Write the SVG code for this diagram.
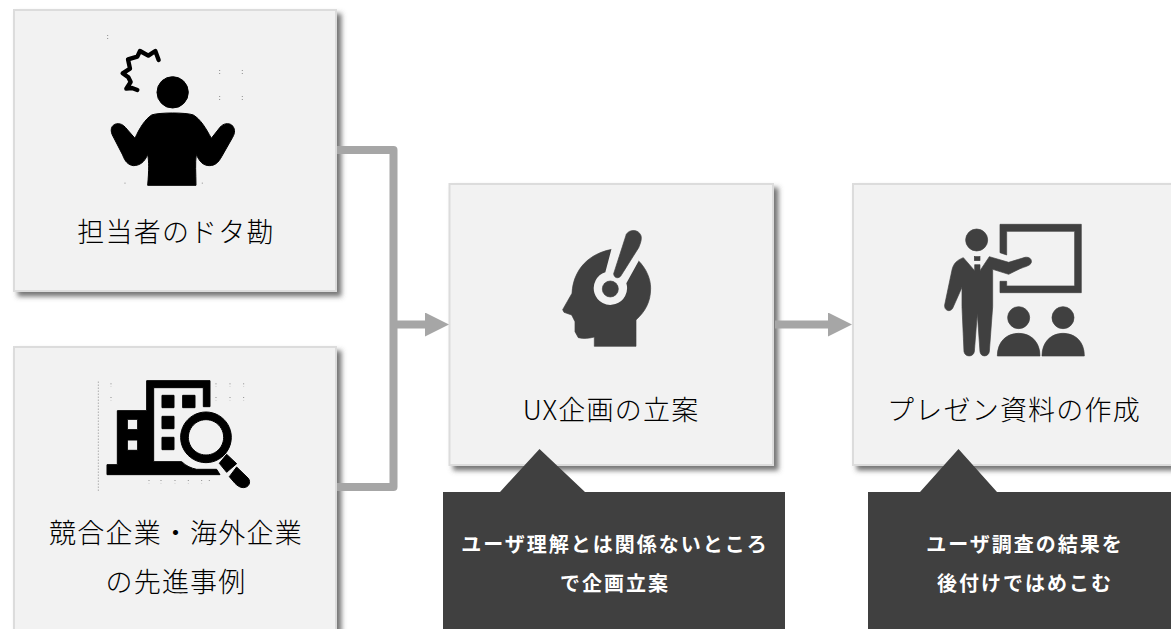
<svg xmlns="http://www.w3.org/2000/svg" width="1171" height="629" viewBox="0 0 1171 629">
<defs>
<filter id="sh" x="-5%" y="-5%" width="115%" height="115%"><feDropShadow dx="4.500" dy="4.500" stdDeviation="2.600" flood-color="#555" flood-opacity="0.8"/></filter>
<filter id="soft" x="-5%" y="-5%" width="110%" height="110%"><feGaussianBlur stdDeviation="1.300"/></filter>
<marker id="ah" markerUnits="userSpaceOnUse" markerWidth="24" markerHeight="24" refX="5" refY="12" orient="auto"><path d="M0 0L24 12L0 24Z" fill="#a6a6a6"/></marker>
</defs>
<style>
.box{fill:#f2f2f2;stroke:#dcdcdc;stroke-width:2;filter:url(#sh)}
.lbl{font-family:"Noto Sans CJK JP","Noto Sans",sans-serif;font-size:27px;font-weight:300;fill:#000;text-anchor:middle;letter-spacing:1.200px}
.note{font-family:"Noto Sans CJK JP","Noto Sans",sans-serif;font-size:20px;font-weight:700;fill:#fff;text-anchor:middle;letter-spacing:2px}
.conn{fill:none;stroke:#a6a6a6;stroke-width:8;stroke-linejoin:round}
.k{fill:#000;stroke:#000;stroke-width:3}.d{fill:#404040;stroke:#404040;stroke-width:2}.w{fill:#f2f2f2}
.sp{fill:none;stroke:#8c8c8c;stroke-width:3;stroke-dasharray:3 6}
.ic{filter:url(#soft)}
</style>
<rect width="1171" height="629" fill="#fff"/>
<g id="node-guess">
<rect class="box" x="14" y="10" width="322" height="281"/>
<g transform="translate(80 20) scale(.3333)">
<g class="ic">
<circle class="k" cx="278" cy="217" r="47"/>
<path class="k" d="M203 496C207 450 207 425 203 403C195 425 180 437 160 437C145 435 135 425 128 405L97 345C88 325 98 310 116 311C128 312 135 320 143 330L165 355C178 325 195 298 215 285C235 277 320 277 340 285C362 298 378 325 394 355L420 322C430 310 445 308 455 315C466 325 466 338 458 352L425 410C415 428 405 437 388 437C370 437 358 425 349 403C345 430 348 460 348 496Z"/>
<path fill="none" stroke="#000" stroke-width="13" stroke-linejoin="round" stroke-linecap="round" d="M172 210L156 204L139 206L152 186L145 172L128 160L150 146L144 118L172 110L180 93L205 107L226 93L236 120"/>
</g>
<path class="sp" d="M83 45V58M419 150V162M487 150V162M419 228V240M487 228V240M135 488V491M367 488V491"/>
</g>
<text class="lbl" x="176" y="242">担当者のドタ勘</text>
</g>
<g id="node-competitors">
<rect class="box" x="14" y="347" width="322" height="290"/>
<g transform="translate(80 365) scale(.3333)">
<g class="ic">
<path class="k" fill-rule="evenodd" d="M200 47H390V125H370V68H221V290H305C318 303 335 310 350 313H410L420 329H81V299H112V137H200ZM142 163V194H173V163ZM142 225V256H173V225ZM246 91H282V128H246ZM308 91H345V128H308ZM246 154H282V191H246ZM246 217H282V254H246Z"/>
<path class="k" fill-rule="evenodd" d="M378 141A76 76 0 1 1 377.900 141ZM378 164A53 53 0 1 0 378.100 164Z"/>
<path class="k" d="M440 268L470 296L440 322L418 295Z"/>
<path class="k" d="M470 306L505 340C514 352 506 368 490 368C480 368 472 362 465 355L448 335Z"/>
</g>
<path class="sp" d="M93 55V65M93 96V106M408 55V65M450 55V65M491 55V65M408 96V106M450 96V106M491 96V106M207 345V355M243 345V355M285 345V355M325 345V355M365 345V355M388 345V350M55 50V380"/>
</g>
<text class="lbl" x="176" y="543">競合企業・海外企業</text>
<text class="lbl" x="176" y="592">の先進事例</text>
</g>
<g id="node-ux">
<rect class="box" x="449.500" y="184" width="323.500" height="281"/>
<g transform="translate(540 215) scale(.3333)">
<g class="ic">
<path class="d" d="M216 103C150 115 100 160 96 235L68 284L72 292L95 300L105 320L105 350L115 368C130 372 150 370 163 366V394H288V315C315 290 332 262 332 220C332 190 318 160 296 138L240 100Z"/>
<path class="w" d="M216 96L196 172A50 50 0 1 0 259 205L296 138L290 90Z"/>
<path class="d" d="M259 58C268 42 296 42 303 62C306 72 302 84 296 98L243 182C236 192 222 190 221 176Z"/>
<circle class="d" cx="211" cy="222" r="24"/>
</g>
</g>
<text class="lbl" x="611" y="420">UX企画の立案</text>
</g>
<g id="node-deck">
<rect class="box" x="853" y="184" width="330" height="281"/>
<g transform="translate(930 210) scale(.3333)">
<g class="ic">
<path class="d" d="M210 43H454V248H210V214H230V228H434V64H230V135L210 128Z"/>
<circle class="d" cx="140" cy="90" r="33"/>
<path class="d" d="M100 143L134 182V164H150V182L178 140L236 157L285 142C298 140 308 148 303 160C298 168 285 170 270 176L236 193L188 178V290L178 425C175 442 152 442 150 425L142 310L133 425C130 442 105 442 102 425L96 290V232L68 295C60 308 42 302 44 285L66 180C70 160 82 150 100 143Z"/>
<rect class="d" x="133" y="140" width="17" height="12"/>
<circle class="d" cx="266" cy="323" r="33"/>
<circle class="d" cx="399" cy="323" r="33"/>
<path class="d" d="M202 438C202 395 230 370 266 370C302 370 330 395 330 438Z"/>
<path class="d" d="M336 438C336 395 364 370 399 370C436 370 463 395 463 438Z"/>
</g>
</g>
<text class="lbl" x="1014" y="420">プレゼン資料の作成</text>
</g>
<g id="connectors">
<path class="conn" d="M337 150H393.500V487H337"/>
<path class="conn" d="M393 324.500H430" marker-end="url(#ah)"/>
<path class="conn" d="M775 324.500H833" marker-end="url(#ah)"/>
</g>
<g id="note-ux">
<path fill="#404040" d="M443 492H500L539.500 449L585 492H785V629H443Z"/>
<text class="note" x="615" y="552">ユーザ理解とは関係ないところ</text>
<text class="note" x="615" y="591">で企画立案</text>
</g>
<g id="note-deck">
<path fill="#404040" d="M868 492H920L958.500 449L997 492H1171V629H868Z"/>
<text class="note" x="1025" y="552">ユーザ調査の結果を</text>
<text class="note" x="1025" y="591">後付けではめこむ</text>
</g>
</svg>
